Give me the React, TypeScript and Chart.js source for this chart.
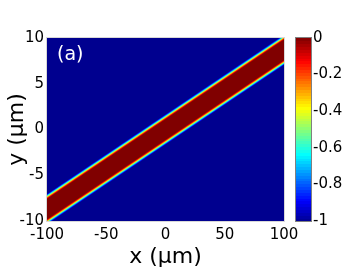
import React, { useEffect, useRef } from "react";
import { Chart, registerables } from "chart.js";

Chart.register(...registerables);

// ---- data ----
const xRange = [-100, 100]; // x (µm) at the two ends of the band axis
const bandCenterY = [-8.7, 8.7]; // y (µm) of the band centre line at x = -100 and x = 100
// contour half-widths (vertical distance from band centre, µm), inner -> outer
const contourHalfWidths = [1.14, 1.21, 1.27, 1.33, 1.39, 1.45, 1.51, 1.58, 1.65];
// field value inside each contour band (0 = core, -1 = background)
const contourValues = [0, -0.1, -0.2, -0.32, -0.44, -0.55, -0.66, -0.79, -0.91];
const backgroundValue = -1;
const xTicks = [-100, -50, 0, 50, 100];
const yTicks = [-10, -5, 0, 5, 10];
const cbTicks = [-1, -0.8, -0.6, -0.4, -0.2, 0];
const cbRange = [-1, 0];
const panelLabel = "(a)";
const FONT = "DejaVu Sans";

function jet(v: number): string {
  const t0 = (v - cbRange[0]) / (cbRange[1] - cbRange[0]);
  const t = 0.0156 + 0.9844 * Math.min(1, Math.max(0, t0));
  const c = (x: number) => Math.round(255 * Math.min(1, Math.max(0, x)));
  const r = c(1.5 - Math.abs(4 * t - 3));
  const g = c(1.5 - Math.abs(4 * t - 2));
  const b = c(1.5 - Math.abs(4 * t - 1));
  return `rgb(${r},${g},${b})`;
}

const heatPlugin = {
  id: "heatDecor",
  beforeDatasetsDraw(chart: any) {
    const { ctx, chartArea } = chart;
    ctx.save();
    ctx.fillStyle = jet(backgroundValue);
    ctx.fillRect(chartArea.left, chartArea.top, chartArea.right - chartArea.left, chartArea.bottom - chartArea.top);
    ctx.restore();
  },
  afterDatasetsDraw(chart: any) {
    const { ctx, chartArea } = chart;
    ctx.save();
    // dotted axis box
    ctx.strokeStyle = "#b0b0b0";
    ctx.lineWidth = 1;
    ctx.setLineDash([1, 1]);
    ctx.strokeRect(chartArea.left - 0.5, chartArea.top - 0.5, chartArea.right - chartArea.left + 1, chartArea.bottom - chartArea.top + 1);
    ctx.setLineDash([]);
    // panel label
    ctx.fillStyle = "#ffffff";
    ctx.font = `19px "${FONT}"`;
    ctx.textBaseline = "middle";
    ctx.textAlign = "left";
    ctx.fillText(panelLabel, chartArea.left + 10, chartArea.top + 17);
    // colorbar
    const cb = chart.scales.cb;
    const x0 = cb.left + 12;
    const w = 15;
    const n = 64;
    for (let i = 0; i < n; i++) {
      const v0 = cbRange[0] + ((cbRange[1] - cbRange[0]) * i) / n;
      const v1 = cbRange[0] + ((cbRange[1] - cbRange[0]) * (i + 1)) / n;
      const y0 = cb.getPixelForValue(v1);
      const y1 = cb.getPixelForValue(v0);
      ctx.fillStyle = jet((v0 + v1) / 2);
      ctx.fillRect(x0, Math.floor(y0), w, Math.ceil(y1) - Math.floor(y0));
    }
    ctx.strokeStyle = "#808080";
    ctx.strokeRect(x0 - 0.5, cb.top - 0.5, w + 1, cb.bottom - cb.top + 1);
    ctx.restore();
  },
};

export default function App() {
  const ref = useRef<HTMLCanvasElement | null>(null);
  useEffect(() => {
    document.body.style.margin = "0";
    const datasets: any[] = [];
    contourHalfWidths.forEach((h, k) => {
      const color = jet(contourValues[k]);
      datasets.push({
        data: xRange.map((x, j) => ({ x, y: bandCenterY[j] + h })),
        fill: "+1",
        backgroundColor: color,
        borderColor: "transparent",
        borderWidth: 0,
        pointRadius: 0,
        tension: 0,
      });
      datasets.push({
        data: xRange.map((x, j) => ({ x, y: bandCenterY[j] - h })),
        fill: false,
        backgroundColor: color,
        borderColor: "transparent",
        borderWidth: 0,
        pointRadius: 0,
        tension: 0,
      });
    });
    const tickFont = { family: FONT, size: 15 };
    const titleFont = { family: FONT, size: 22 };
    const chart = new Chart(ref.current as HTMLCanvasElement, {
      type: "line",
      data: { datasets },
      plugins: [heatPlugin],
      options: {
        animation: false,
        responsive: false,
        layout: { padding: { top: 21, left: 0, right: 0, bottom: 0 } },
        plugins: { legend: { display: false }, tooltip: { enabled: false } },
        scales: {
          x: {
            type: "linear",
            position: "bottom",
            min: xRange[0],
            max: xRange[1],
            afterBuildTicks: (s: any) => { s.ticks = xTicks.map((v) => ({ value: v })); },
            afterFit: (s: any) => { s.height = 51; },
            ticks: { font: tickFont, color: "#000", padding: 5, maxRotation: 0, autoSkip: false },
            grid: { display: false, drawTicks: false },
            border: { display: false },
            title: { display: true, text: "x (μm)", font: titleFont, color: "#000", padding: { top: 0, bottom: 2 } },
          },
          y: {
            type: "linear",
            position: "left",
            min: -10,
            max: 10,
            afterBuildTicks: (s: any) => { s.ticks = yTicks.map((v) => ({ value: v })); },
            afterFit: (s: any) => { s.width = 47; },
            ticks: { font: tickFont, color: "#000", padding: 3, autoSkip: false },
            grid: { display: false, drawTicks: false },
            border: { display: false },
            title: { display: true, text: "y (μm)", font: titleFont, color: "#000", padding: { top: 4, bottom: 0 } },
          },
          cb: {
            type: "linear",
            position: "right",
            min: cbRange[0],
            max: cbRange[1],
            afterBuildTicks: (s: any) => { s.ticks = cbTicks.map((v) => ({ value: v })); },
            afterFit: (s: any) => { s.width = 73; },
            ticks: {
              font: tickFont,
              color: "#000",
              padding: 29,
              autoSkip: false,
              callback: (v: any) => String(Math.round(Number(v) * 10) / 10),
            },
            grid: { display: false, drawTicks: false },
            border: { display: false },
          },
        },
      } as any,
    });
    return () => chart.destroy();
  }, []);
  return (
    <div style={{ width: 357, height: 272 }}>
      <canvas ref={ref} width={357} height={272} />
    </div>
  );
}
